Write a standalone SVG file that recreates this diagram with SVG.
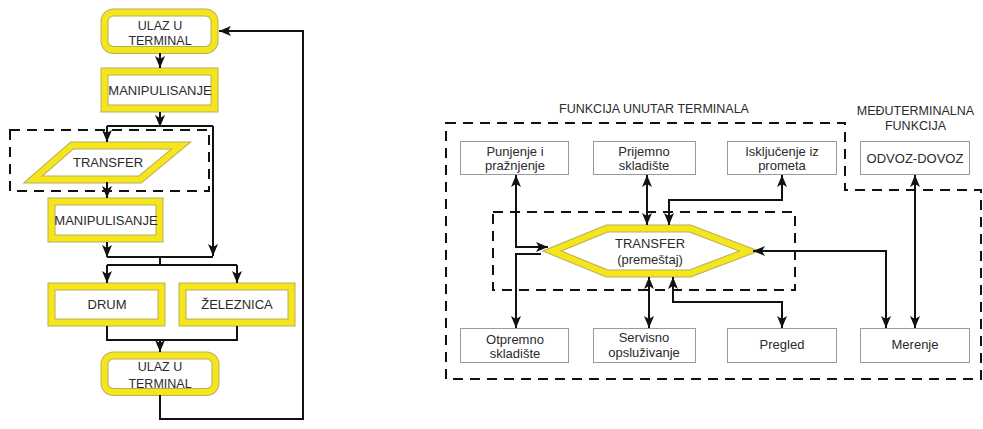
<svg xmlns="http://www.w3.org/2000/svg" width="983" height="429" viewBox="0 0 983 429">
<style>
.bg{fill:#fff}
.yo{fill:#fff;stroke:#b8ae5a;stroke-width:8}
.yi{fill:none;stroke:#f5e51c;stroke-width:6}
.gb{fill:#fff;stroke:#9a9a9a;stroke-width:1}
.t{font-family:"Liberation Sans",Arial,sans-serif;font-size:13px;fill:#2b2b2b;text-anchor:middle}
.tl{font-family:"Liberation Sans",Arial,sans-serif;font-size:12.5px;fill:#2b2b2b;text-anchor:middle}
.c{fill:none;stroke:#111;stroke-width:2}
.a{marker-end:url(#ah)}
.aa{marker-start:url(#ah);marker-end:url(#ah)}
.d{fill:none;stroke:#111;stroke-width:2;stroke-dasharray:10 7}
</style>
<defs>
<marker id="ah" viewBox="0 0 12 10" refX="12" refY="5" markerWidth="12" markerHeight="10" markerUnits="userSpaceOnUse" orient="auto-start-reverse">
<path d="M0,0 L12,5 L0,10 L3,5 z" fill="#111"/>
</marker>
</defs>
<rect class="bg" x="0" y="0" width="983" height="429"/>

<!-- left flowchart -->
<g id="transfer-zone">
<rect class="d" x="10" y="130" width="199" height="61"/>
</g>
<g id="ulaz1">
<rect class="yo" x="104.5" y="12.5" width="110" height="37.5" rx="9"/>
<rect class="yi" x="104.5" y="12.5" width="110" height="37.5" rx="9"/>
<text class="tl" x="160" y="29.5">ULAZ U</text>
<text class="tl" x="160" y="44.5">TERMINAL</text>
</g>
<g id="manip1">
<rect class="yo" x="104.5" y="71.5" width="110" height="37"/>
<rect class="yi" x="104.5" y="71.5" width="110" height="37"/>
<text class="t" x="160" y="94.5">MANIPULISANJE</text>
</g>
<g id="transfer1">
<polygon class="yo" points="72,145.5 181,145.5 140,179.5 33,179.5"/>
<polygon class="yi" points="72,145.5 181,145.5 140,179.5 33,179.5"/>
<text class="t" x="108" y="166.5">TRANSFER</text>
</g>
<g id="manip2">
<rect class="yo" x="51.5" y="201.5" width="108" height="37"/>
<rect class="yi" x="51.5" y="201.5" width="108" height="37"/>
<text class="t" x="106" y="224.5">MANIPULISANJE</text>
</g>
<g id="drum">
<rect class="yo" x="51.5" y="286.5" width="110" height="36"/>
<rect class="yi" x="51.5" y="286.5" width="110" height="36"/>
<text class="t" x="107" y="309">DRUM</text>
</g>
<g id="zeleznica">
<rect class="yo" x="182.5" y="286.5" width="109" height="36"/>
<rect class="yi" x="182.5" y="286.5" width="109" height="36"/>
<text class="t" x="237" y="309">ŽELEZNICA</text>
</g>
<g id="ulaz2">
<rect class="yo" x="104.5" y="355.5" width="111" height="36.5" rx="9"/>
<rect class="yi" x="104.5" y="355.5" width="111" height="36.5" rx="9"/>
<text class="tl" x="160" y="370.5">ULAZ U</text>
<text class="tl" x="160" y="387.5">TERMINAL</text>
</g>

<!-- right diagram -->
<g id="zones">
<path class="d" d="M446,123 H845 V190 H981 V379 H446 Z"/>
<path class="d" d="M493,212 H795 V290 H493 Z"/>
<text class="tl" x="654" y="112.5">FUNKCIJA UNUTAR TERMINALA</text>
<text class="tl" x="915.5" y="115">MEĐUTERMINALNA</text>
<text class="tl" x="915.5" y="129.5">FUNKCIJA</text>
</g>
<g id="punjenje">
<rect class="gb" x="460.5" y="141.5" width="108" height="33"/>
<text class="t" x="515" y="155.5">Punjenje i</text>
<text class="t" x="515" y="169.5">pražnjenje</text>
</g>
<g id="prijemno">
<rect class="gb" x="593.5" y="141.5" width="102" height="33"/>
<text class="t" x="644" y="155.5">Prijemno</text>
<text class="t" x="644" y="169.5">skladište</text>
</g>
<g id="iskljucenje">
<rect class="gb" x="727.5" y="141.5" width="109" height="33"/>
<text class="t" x="782" y="155.5">Isključenje iz</text>
<text class="t" x="782" y="169.5">prometa</text>
</g>
<g id="odvoz">
<rect class="gb" x="860.5" y="141.5" width="109" height="33"/>
<text class="t" x="915" y="162.5">ODVOZ-DOVOZ</text>
</g>
<g id="transfer2">
<polygon class="yo" points="552,251 607,228.5 690,228.5 749,251 690,273.5 607,273.5"/>
<polygon class="yi" points="552,251 607,228.5 690,228.5 749,251 690,273.5 607,273.5"/>
<text class="t" x="650" y="247.5">TRANSFER</text>
<text class="t" x="650" y="264">(premeštaj)</text>
</g>
<g id="otpremno">
<rect class="gb" x="460.5" y="328.5" width="108" height="34"/>
<text class="t" x="515" y="343.5">Otpremno</text>
<text class="t" x="515" y="358">skladište</text>
</g>
<g id="servisno">
<rect class="gb" x="593.5" y="328.5" width="102" height="34"/>
<text class="t" x="644" y="341.5">Servisno</text>
<text class="t" x="644" y="356.5">opsluživanje</text>
</g>
<g id="pregled">
<rect class="gb" x="727.5" y="328.5" width="109" height="34"/>
<text class="t" x="782" y="349">Pregled</text>
</g>
<g id="merenje">
<rect class="gb" x="860.5" y="328.5" width="109" height="34"/>
<text class="t" x="915" y="349">Merenje</text>
</g>

<g id="connectors">
<!-- left -->
<path class="c a" d="M160,53 V68"/>
<path class="c a" d="M160,112 V127"/>
<path class="c a" d="M107,126 H213 M107,126 V142"/>
<path class="c a" d="M213,126 V256"/>
<path class="c a" d="M107,182 V198"/>
<path class="c a" d="M107,242 V257"/>
<path class="c" d="M107,257 H213 M160,257 V265"/>
<path class="c a" d="M107,265 H237 M107,265 V283"/>
<path class="c a" d="M237,265 V283"/>
<path class="c" d="M107,326 V340 H237 V326"/>
<path class="c a" d="M160,340 V352"/>
<path class="c a" d="M160,395 V419 H303 V31 H219"/>
<!-- right -->
<path class="c aa" d="M516,175 V247 H548"/>
<path class="c a" d="M541,254 H516 V328"/>
<path class="c aa" d="M647,175 V225"/>
<path class="c aa" d="M669,225 V200 H782 V175"/>
<path class="c aa" d="M753,251 H886 V328"/>
<path class="c aa" d="M915,175 V328"/>
<path class="c aa" d="M649,277 V328"/>
<path class="c aa" d="M673,277 V302 H782 V328"/>
</g>
</svg>
